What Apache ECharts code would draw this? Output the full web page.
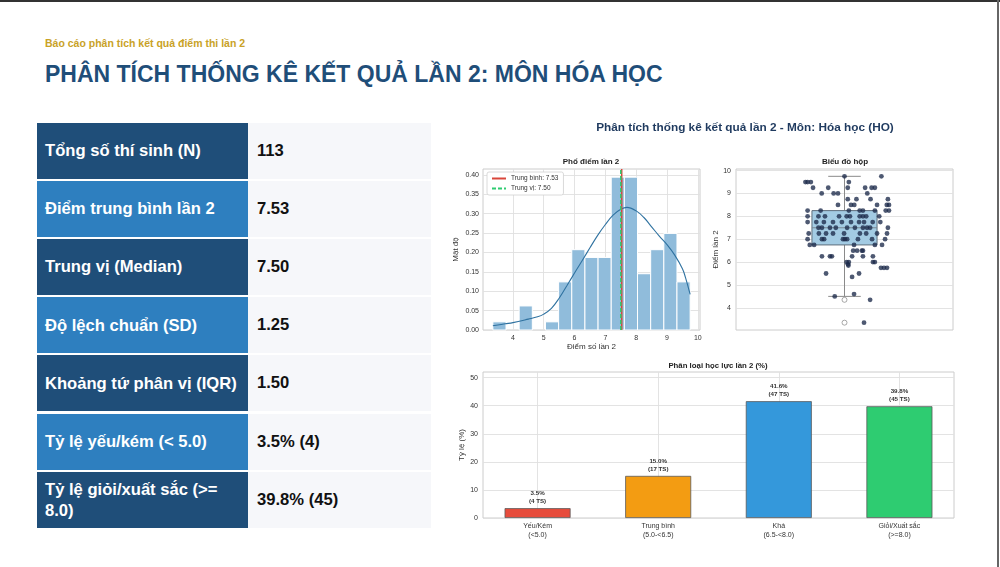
<!DOCTYPE html>
<html><head><meta charset="utf-8">
<script src="https://cdn.jsdelivr.net/npm/echarts@6/dist/echarts.min.js"></script>
<style>
html,body{margin:0;padding:0;width:1000px;height:567px;overflow:hidden;background:#fff;font-family:"Liberation Sans",Arial,sans-serif;}
#frameTop{position:absolute;left:0;top:0;width:1000px;height:2px;background:#333;}
#frameRight{position:absolute;left:997px;top:0;width:2px;height:567px;background:#666;}
#sub{position:absolute;left:45px;top:37px;font-size:10.5px;font-weight:bold;color:#c9a227;white-space:nowrap;}
#title{position:absolute;left:45px;top:61px;font-size:23px;font-weight:bold;color:#1f4e79;white-space:nowrap;}
.row{position:absolute;left:37px;width:394px;height:56px;}
.lab{position:absolute;left:0;top:0;width:196px;height:56px;padding-left:8px;padding-right:7px;display:flex;align-items:center;color:#fff;font-weight:bold;font-size:16.6px;line-height:21px;}
.val{position:absolute;left:211px;top:0;width:174px;height:56px;padding-left:9px;display:flex;align-items:center;color:#111;font-weight:bold;font-size:16.6px;background:#f6f7fa;}
#chart{position:absolute;left:0;top:0;width:1000px;height:567px;}
</style></head>
<body>
<div id="frameTop"></div><div id="frameRight"></div>
<div id="sub"></div>
<div id="title"></div>
<div id="table"></div>
<div id="chart"></div>
<script>
// ---------- data ----------
const pageSubtitle = 'Báo cáo phân tích kết quả điểm thi lần 2';
const pageTitle = 'PHÂN TÍCH THỐNG KÊ KẾT QUẢ LẦN 2: MÔN HÓA HỌC';
const statLabels = ['Tổng số thí sinh (N)', 'Điểm trung bình lần 2', 'Trung vị (Median)', 'Độ lệch chuẩn (SD)', 'Khoảng tứ phân vị (IQR)', 'Tỷ lệ yếu/kém (< 5.0)', 'Tỷ lệ giỏi/xuất sắc (>= 8.0)'];
const statValues = ['113', '7.53', '7.50', '1.25', '1.50', '3.5% (4)', '39.8% (45)'];

const binEdges = [3.35, 3.777, 4.203, 4.63, 5.057, 5.483, 5.91, 6.337, 6.763, 7.19, 7.617, 8.043, 8.47, 8.897, 9.323, 9.75];
const binDensity = [0.021, 0, 0.062, 0, 0.021, 0.124, 0.207, 0.187, 0.187, 0.394, 0.394, 0.145, 0.207, 0.249, 0.124];
const kdeX = [3.35, 3.75, 4.0, 4.5, 4.8, 5.0, 5.25, 5.5, 5.75, 6.0, 6.25, 6.5, 6.75, 7.0, 7.25, 7.5, 7.7, 8.0, 8.25, 8.5, 8.75, 9.0, 9.25, 9.5, 9.6, 9.75];
const kdeY = [0.011, 0.016, 0.019, 0.028, 0.034, 0.041, 0.056, 0.082, 0.114, 0.147, 0.179, 0.212, 0.244, 0.272, 0.296, 0.311, 0.316, 0.307, 0.29, 0.266, 0.242, 0.22, 0.193, 0.158, 0.135, 0.092];
const meanScore = 7.53;
const medianScore = 7.50;
const histXTicks = [4, 5, 6, 7, 8, 9, 10];
const histYTicks = [0, 0.05, 0.10, 0.15, 0.20, 0.25, 0.30, 0.35, 0.40];

const boxStats = [4.5, 6.75, 7.5, 8.25, 9.75]; // low whisker, Q1, median, Q3, high whisker
const outlierScores = [4.35, 3.35];
const stripScores = [
  9.75, 9.75,
  9.5, 9.5, 9.5, 9.5,
  9.25, 9.25, 9.25, 9.25, 9.25, 9.25,
  9.0, 9.0, 9.0, 9.0,
  8.75, 8.75, 8.75, 8.75,
  8.5, 8.5, 8.5, 8.5, 8.5, 8.5,
  8.25, 8.25, 8.25, 8.25, 8.25, 8.25, 8.25, 8.25,
  8.0, 8.0, 8.0, 8.0, 8.0, 8.0, 8.0, 8.0, 8.0, 8.0,
  7.75, 7.75, 7.75, 7.75, 7.75, 7.75, 7.75, 7.75, 7.75, 7.75,
  7.5, 7.5, 7.5, 7.5, 7.5, 7.5, 7.5, 7.5, 7.5, 7.5,
  7.25, 7.25, 7.25, 7.25, 7.25, 7.25, 7.25, 7.25, 7.25,
  7.0, 7.0, 7.0, 7.0, 7.0, 7.0, 7.0, 7.0, 7.0,
  6.75, 6.75, 6.75, 6.75, 6.75,
  6.5, 6.5, 6.5, 6.5,
  6.25, 6.25, 6.25, 6.25, 6.25, 6.25,
  6.0, 6.0, 6.0, 6.0,
  5.9, 5.85,
  5.75, 5.75, 5.75,
  5.5, 5.5,
  5.35, 4.6, 4.5, 4.35, 3.35
];
const stripJitter = [
  0.00, 0.17,
  -0.18, -0.17, -0.155, 0.02,
  -0.145, -0.075, 0.015, 0.095, 0.125, 0.14,
  -0.105, -0.05, -0.03, 0.105,
  0.015, 0.055, 0.12, 0.20,
  -0.03, 0.03, 0.045, 0.15, 0.195, 0.205,
  -0.17, -0.11, 0.02, 0.07, 0.085, 0.14, 0.19, 0.205,
  -0.17, -0.12, -0.09, -0.025, 0.01, 0.025, 0.07, 0.085, 0.10, 0.16,
  -0.17, -0.13, -0.095, -0.053, -0.012, 0.03, 0.067, 0.09, 0.13, 0.165,
  -0.12, -0.104, -0.067, -0.04, 0.012, 0.048, 0.085, 0.104, 0.118, 0.20,
  -0.165, -0.118, -0.085, -0.053, -0.002, 0.071, 0.10, 0.15, 0.196,
  -0.17, -0.104, -0.094, -0.007, 0.002, 0.012, 0.062, 0.127, 0.187,
  -0.16, -0.14, 0.044, 0.14, 0.173,
  0.04, 0.058, 0.08, 0.085,
  -0.104, -0.067, -0.058, 0.035, 0.085, 0.131,
  0.01, 0.02, 0.131, 0.14,
  0.016, 0.018,
  0.168, 0.182, 0.196,
  -0.085, 0.067,
  0.035, 0.044, -0.045, 0.118, 0.09
];
const boxYTicks = [4, 5, 6, 7, 8, 9, 10];

const levelNames = ['Yếu/Kém\n(<5.0)', 'Trung bình\n(5.0-<6.5)', 'Khá\n(6.5-<8.0)', 'Giỏi/Xuất sắc\n(>=8.0)'];
const levelPct = [3.5, 15.0, 41.6, 39.8];
const levelCount = [4, 17, 47, 45];
const levelTicks = [0, 1, 2, 3];
const barYTicks = [0, 10, 20, 30, 40, 50];

// ---------- styles ----------
const levelColors = ['#e74c3c', '#f39c12', '#3498db', '#2ecc71'];
const rowColors = ['#1f4e79', '#2e7fbf'];
const FONT = '"Liberation Sans", Arial, sans-serif';

// ---------- html parts ----------
document.getElementById('sub').textContent = pageSubtitle;
document.getElementById('title').textContent = pageTitle;
const tbl = document.getElementById('table');
statLabels.forEach((l, i) => {
  const r = document.createElement('div');
  r.className = 'row';
  r.style.top = (122.5 + i * 58.2) + 'px';
  const a = document.createElement('div'); a.className = 'lab'; a.textContent = l; a.style.background = rowColors[i % 2];
  const b = document.createElement('div'); b.className = 'val'; b.textContent = statValues[i];
  r.appendChild(a); r.appendChild(b); tbl.appendChild(r);
});

// ---------- chart ----------
const chart = echarts.init(document.getElementById('chart'), null, {renderer: 'canvas'});
const gridLine = {lineStyle: {color: '#e0e0e0', width: 0.9}};
const tickLbl = {fontSize: 7, color: '#333', fontFamily: FONT};
const nameStyle = {fontSize: 8, color: '#333', fontFamily: FONT};

const option = {
  animation: false,
  textStyle: {fontFamily: FONT},
  graphic: [
    {type: 'text', x: 745, y: 128, style: {text: 'Phân tích thống kê kết quả lần 2 - Môn: Hóa học (HO)', font: 'bold 11.8px ' + FONT, fill: '#1f3a5f', align: 'center', verticalAlign: 'middle'}},
    {type: 'text', x: 591, y: 162, style: {text: 'Phổ điểm lần 2', font: 'bold 8px ' + FONT, fill: '#222', align: 'center', verticalAlign: 'middle'}},
    {type: 'text', x: 845, y: 162, style: {text: 'Biểu đồ hộp', font: 'bold 8px ' + FONT, fill: '#222', align: 'center', verticalAlign: 'middle'}},
    {type: 'text', x: 718, y: 366, style: {text: 'Phân loại học lực lần 2 (%)', font: 'bold 7.8px ' + FONT, fill: '#222', align: 'center', verticalAlign: 'middle'}}
  ],
  legend: {
    left: 487, top: 172, orient: 'vertical', itemWidth: 14, itemHeight: 8, itemGap: 3,
    padding: [3, 5, 3, 4], backgroundColor: '#fff', borderColor: '#d0d0d0', borderWidth: 0.8, borderRadius: 2,
    itemStyle: {color: 'rgba(0,0,0,0)', borderColor: 'rgba(0,0,0,0)', borderWidth: 0, opacity: 0},
    textStyle: {fontSize: 6.5, color: '#333', fontFamily: FONT},
    data: ['Trung bình: ' + meanScore.toFixed(2), 'Trung vị: ' + medianScore.toFixed(2)]
  },
  grid: [
    {left: 483, top: 169, width: 217, height: 161, show: true, borderColor: '#cccccc', borderWidth: 1, backgroundColor: '#fff'},
    {left: 736, top: 169, width: 217, height: 161, show: true, borderColor: '#cccccc', borderWidth: 1, backgroundColor: '#fff'},
    {left: 483, top: 372, width: 471, height: 146, show: true, borderColor: '#cccccc', borderWidth: 1, backgroundColor: '#fff'}
  ],
  xAxis: [
    {gridIndex: 0, type: 'value', min: 3.03, max: 10.07, axisLine: {show: false}, axisTick: {show: false, customValues: histXTicks},
     axisLabel: Object.assign({customValues: histXTicks, margin: 5}, tickLbl), splitLine: gridLine,
     name: 'Điểm số lần 2', nameLocation: 'middle', nameGap: 13, nameTextStyle: nameStyle},
    {gridIndex: 1, type: 'value', min: -0.5, max: 0.5, axisLine: {show: false}, axisTick: {show: false}, axisLabel: {show: false}, splitLine: {show: false}},
    {gridIndex: 2, type: 'value', min: -0.4525, max: 3.4525, axisLine: {show: false}, axisTick: {show: false, customValues: levelTicks},
     axisLabel: Object.assign({customValues: levelTicks, margin: 4, lineHeight: 9, formatter: v => levelNames[Math.round(v)]}, tickLbl), splitLine: gridLine}
  ],
  yAxis: [
    {gridIndex: 0, type: 'value', min: 0, max: 0.415, axisLine: {show: false}, axisTick: {show: false, customValues: histYTicks},
     axisLabel: Object.assign({customValues: histYTicks, margin: 4, formatter: v => v.toFixed(2)}, tickLbl), splitLine: gridLine,
     name: 'Mật độ', nameLocation: 'middle', nameGap: 23, nameTextStyle: nameStyle},
    {gridIndex: 1, type: 'value', min: 3.03, max: 10.07, axisLine: {show: false}, axisTick: {show: false, customValues: boxYTicks},
     axisLabel: Object.assign({customValues: boxYTicks, margin: 5}, tickLbl), splitLine: gridLine,
     name: 'Điểm lần 2', nameLocation: 'middle', nameGap: 15, nameTextStyle: nameStyle},
    {gridIndex: 2, type: 'value', min: 0, max: 52, axisLine: {show: false}, axisTick: {show: false, customValues: barYTicks},
     axisLabel: Object.assign({customValues: barYTicks, margin: 5}, tickLbl), splitLine: gridLine,
     name: 'Tỷ lệ (%)', nameLocation: 'middle', nameGap: 17, nameTextStyle: nameStyle}
  ],
  series: [
    {type: 'custom', name: 'hist', xAxisIndex: 0, yAxisIndex: 0, z: 2,
     data: binDensity.map((d, i) => [binEdges[i], binEdges[i + 1], d]),
     encode: {x: [0, 1], y: 2},
     renderItem: (params, api) => {
       if (api.value(2) <= 0) return null;
       const p0 = api.coord([api.value(0), api.value(2)]);
       const p1 = api.coord([api.value(1), 0]);
       return {type: 'rect', shape: {x: p0[0], y: p0[1], width: p1[0] - p0[0], height: p1[1] - p0[1]},
               style: {fill: '#90bcdb', stroke: '#ffffff', lineWidth: 1}};
     }},
    {type: 'line', name: 'kde', xAxisIndex: 0, yAxisIndex: 0, z: 3, smooth: 0.4, symbol: 'none',
     data: kdeX.map((x, i) => [x, kdeY[i]]), lineStyle: {color: '#2f72a0', width: 1.1}},
    {type: 'line', name: 'Trung bình: ' + meanScore.toFixed(2), xAxisIndex: 0, yAxisIndex: 0, z: 4, symbol: 'none',
     data: [[meanScore, 0], [meanScore, 0.415]], lineStyle: {color: '#d9463b', width: 1.5}, itemStyle: {color: '#d9463b'}},
    {type: 'line', name: 'Trung vị: ' + medianScore.toFixed(2), xAxisIndex: 0, yAxisIndex: 0, z: 5, symbol: 'none',
     data: [[medianScore, 0], [medianScore, 0.415]], lineStyle: {color: '#2ecc71', width: 1.5, type: [4, 2]}, itemStyle: {color: '#2ecc71'}},

    {type: 'custom', name: 'box', xAxisIndex: 1, yAxisIndex: 1, z: 2,
     data: [[0].concat(boxStats)],
     encode: {x: 0, y: [1, 2, 3, 4, 5]},
     renderItem: (params, api) => {
       const x = api.value(0), lo = api.value(1), q1 = api.value(2), med = api.value(3), q3 = api.value(4), hi = api.value(5);
       const hw = 0.15, cw = 0.075;
       const a = api.coord([x - hw, q3]), b = api.coord([x + hw, q1]);
       const c = api.coord([x, lo]), d = api.coord([x, q1]), e = api.coord([x, q3]), f = api.coord([x, hi]);
       const cl = api.coord([x - cw, lo]), cr = api.coord([x + cw, lo]);
       const hl = api.coord([x - cw, hi]), hr = api.coord([x + cw, hi]);
       const ml = api.coord([x - hw, med]), mr = api.coord([x + hw, med]);
       const ws = {stroke: '#8a8a8a', lineWidth: 1};
       return {type: 'group', children: [
         {type: 'line', shape: {x1: c[0], y1: c[1], x2: d[0], y2: d[1]}, style: ws},
         {type: 'line', shape: {x1: e[0], y1: e[1], x2: f[0], y2: f[1]}, style: ws},
         {type: 'line', shape: {x1: cl[0], y1: cl[1], x2: cr[0], y2: cr[1]}, style: ws},
         {type: 'line', shape: {x1: hl[0], y1: hl[1], x2: hr[0], y2: hr[1]}, style: ws},
         {type: 'rect', shape: {x: a[0], y: a[1], width: b[0] - a[0], height: b[1] - a[1]}, style: {fill: '#a3cbe3', stroke: '#5f6e7b', lineWidth: 1}},
         {type: 'line', shape: {x1: ml[0], y1: ml[1], x2: mr[0], y2: mr[1]}, style: {stroke: '#7a8894', lineWidth: 1}}
       ]};
     }},
    {type: 'scatter', name: 'outliers', xAxisIndex: 1, yAxisIndex: 1, z: 3, symbol: 'circle', symbolSize: 5,
     data: outlierScores.map(v => [0, v]), itemStyle: {color: '#fff', borderColor: '#777', borderWidth: 0.8}},
    {type: 'scatter', name: 'strip', xAxisIndex: 1, yAxisIndex: 1, z: 4, symbolSize: 4.8,
     data: stripScores.map((v, i) => [stripJitter[i], v]), itemStyle: {color: '#1c2a4a', opacity: 0.78}},

    {type: 'bar', name: 'levels', xAxisIndex: 2, yAxisIndex: 2, z: 2, barWidth: 66,
     data: levelPct.map((v, i) => ({value: [levelTicks[i], v], itemStyle: {color: levelColors[i]}})),
     itemStyle: {borderColor: '#5a5a5a', borderWidth: 0.8},
     label: {show: true, position: 'top', distance: 3, fontSize: 6.2, fontWeight: 'bold', color: '#333', lineHeight: 8, fontFamily: FONT,
             formatter: p => levelPct[p.dataIndex].toFixed(1) + '%\n(' + levelCount[p.dataIndex] + ' TS)'}}
  ]
};
chart.setOption(option);
</script>
</body></html>
